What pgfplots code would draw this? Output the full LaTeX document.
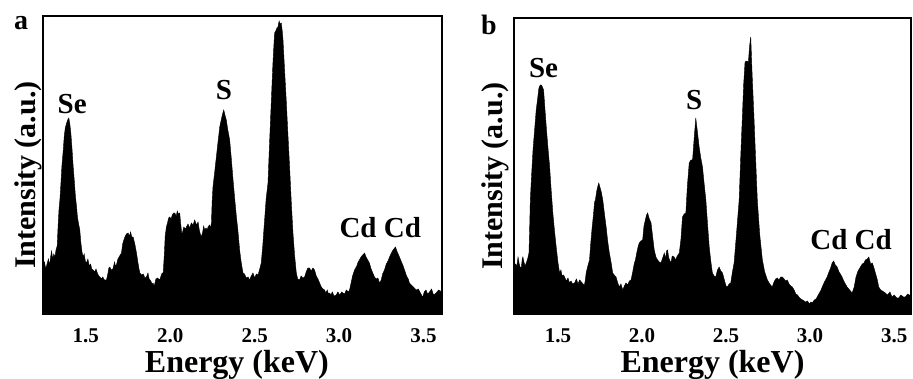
\documentclass[border=0pt]{standalone}
\usepackage{fontspec}
\setmainfont{Liberation Serif}
\usepackage{pgfplots}
\pgfplotsset{compat=1.18}

\begin{document}
\begin{tikzpicture}[x=1pt,y=1pt]
\tikzset{pk/.style={anchor=base, inner sep=0pt, font=\bfseries\fontsize{29}{29}\selectfont}}
\pgfplotsset{
  eds/.style={
    scale only axis,
    ymin=0,
    axis line style={line width=2.2pt},
    xtick={1.5,2.0,2.5,3.0,3.5},
    xticklabels={1.5,2.0,2.5,3.0,3.5},
    ytick=\empty,
    major tick length=0pt,
    xticklabel style={font=\bfseries\fontsize{21}{21}\selectfont, anchor=base, yshift=-29pt},
    xlabel={Energy (keV)},
    ylabel={Intensity (a.u.)},
    xlabel style={font=\bfseries\fontsize{32}{32}\selectfont},
    ylabel style={font=\bfseries\fontsize{30}{30}\selectfont},
    xlabel style={at={(axis description cs:0.5,0)}, anchor=base, yshift=-59pt},
  },
}

% ---------------- panel a ----------------
\begin{axis}[eds, at={(43pt,65pt)}, anchor=south west, width=399pt, height=298pt,
  xmin=1.246, xmax=3.61, ymax=298,
  xlabel style={at={(axis description cs:0.486,0)}},
  ylabel style={at={(axis description cs:-0.02,0.466)}, anchor=base}]
\addplot[fill=black, draw=black, line width=0.4pt] coordinates {
(1.246,47) (1.255,52) (1.262,45) (1.270,50) (1.278,55) (1.285,49) (1.292,58) (1.297,63)
(1.303,55) (1.310,60) (1.317,57) (1.323,64) (1.330,68) (1.336,90) (1.341,105) (1.346,114)
(1.352,130) (1.358,148) (1.366,164) (1.372,178) (1.378,186) (1.386,191) (1.392,194) (1.399,196)
(1.405,190) (1.411,181) (1.418,165) (1.425,147) (1.432,132) (1.438,118) (1.445,107) (1.450,97)
(1.457,90) (1.464,84) (1.470,72) (1.477,62) (1.484,57) (1.490,60) (1.497,53) (1.504,51)
(1.512,55) (1.520,48) (1.528,50) (1.535,45) (1.543,44) (1.552,42) (1.560,45) (1.570,40)
(1.577,38) (1.583,37) (1.592,35) (1.600,37) (1.610,34) (1.622,34) (1.630,40) (1.636,46)
(1.642,47) (1.650,44) (1.660,45) (1.670,52) (1.675,48) (1.681,49) (1.690,55) (1.700,58)
(1.711,61) (1.718,70) (1.725,74) (1.731,77) (1.740,80) (1.750,81) (1.758,78) (1.765,82)
(1.772,77) (1.780,77) (1.790,70) (1.800,61) (1.808,52) (1.815,45) (1.820,41) (1.830,39)
(1.840,40) (1.850,36) (1.859,37) (1.868,41) (1.875,35) (1.885,33) (1.892,30) (1.898,31)
(1.905,28) (1.915,35) (1.925,36) (1.938,34) (1.945,38) (1.952,41) (1.958,41) (1.965,60)
(1.970,78) (1.977,87) (1.985,92) (1.990,96) (1.997,97) (2.005,95) (2.012,99) (2.020,101)
(2.027,101) (2.035,98) (2.042,103) (2.048,100) (2.056,101) (2.062,90) (2.068,81) (2.072,81)
(2.080,87) (2.090,85) (2.096,87) (2.105,90) (2.115,86) (2.125,91) (2.135,89) (2.145,94)
(2.155,89) (2.165,92) (2.172,84) (2.178,80) (2.184,77) (2.192,82) (2.198,88) (2.204,84)
(2.212,86) (2.218,84) (2.224,87) (2.232,89) (2.238,86) (2.244,91) (2.248,112) (2.253,127)
(2.262,140) (2.273,157) (2.283,172) (2.293,187) (2.303,195) (2.310,200) (2.317,204) (2.324,199)
(2.332,194) (2.340,185) (2.352,174) (2.362,155) (2.372,134) (2.382,115) (2.392,97) (2.400,85)
(2.411,64) (2.420,52) (2.431,41) (2.440,40) (2.450,36) (2.461,37) (2.470,34) (2.480,38)
(2.490,41) (2.500,36) (2.510,40) (2.520,39) (2.530,45) (2.539,51) (2.548,68) (2.555,85)
(2.559,94) (2.568,115) (2.579,131) (2.588,170) (2.599,214) (2.608,250) (2.618,281) (2.625,283)
(2.632,286) (2.638,287) (2.645,293) (2.650,290) (2.658,291) (2.664,282) (2.668,274) (2.677,245)
(2.687,214) (2.697,180) (2.707,147) (2.717,112) (2.727,81) (2.737,58) (2.747,41) (2.755,35)
(2.766,34) (2.775,38) (2.786,36) (2.796,37) (2.805,42) (2.815,46) (2.825,46) (2.835,43)
(2.845,46) (2.855,44) (2.865,38) (2.875,35) (2.885,31) (2.895,27) (2.905,25) (2.914,24)
(2.922,21) (2.930,24) (2.937,20) (2.944,21) (2.952,19) (2.960,22) (2.970,18) (2.983,19)
(2.993,22) (3.005,19) (3.015,22) (3.023,21) (3.033,20) (3.043,24) (3.055,22) (3.062,24)
(3.070,30) (3.080,38) (3.092,44) (3.105,48) (3.113,52) (3.121,54) (3.130,57) (3.140,59)
(3.151,61) (3.160,57) (3.170,54) (3.180,51) (3.190,45) (3.200,41) (3.210,37) (3.220,35)
(3.230,36) (3.240,31) (3.250,34) (3.258,40) (3.269,44) (3.280,50) (3.290,53) (3.299,57)
(3.310,61) (3.320,64) (3.334,67) (3.345,62) (3.358,57) (3.370,52) (3.380,48) (3.388,44)
(3.400,38) (3.410,35) (3.417,31) (3.428,29) (3.440,27) (3.457,24) (3.470,25) (3.485,20)
(3.496,17) (3.505,22) (3.515,24) (3.525,20) (3.536,22) (3.548,25) (3.560,19) (3.575,21)
(3.590,24) (3.610,22)
} \closedcycle;
\node[pk] at (axis cs:1.419,200) {Se};
\node[pk] at (axis cs:2.318,214) {S};
\node[pk] at (axis cs:3.244,76) {Cd Cd};
\end{axis}

% ---------------- panel b ----------------
\begin{axis}[eds, at={(514pt,65pt)}, anchor=south west, width=397pt, height=296pt,
  xmin=1.239, xmax=3.60, ymax=296,
  ylabel style={at={(axis description cs:-0.028,0.466)}, anchor=base}]
\addplot[fill=black, draw=black, line width=0.4pt] coordinates {
(1.239,44) (1.248,50) (1.256,48) (1.263,57) (1.270,50) (1.277,46) (1.283,47) (1.288,55)
(1.292,57) (1.298,52) (1.305,48) (1.312,51) (1.320,55) (1.328,61) (1.332,85) (1.336,114)
(1.344,140) (1.352,164) (1.362,185) (1.371,204) (1.380,216) (1.387,226) (1.395,229) (1.401,229)
(1.408,227) (1.415,224) (1.423,205) (1.431,187) (1.440,168) (1.451,147) (1.460,124) (1.470,101)
(1.480,83) (1.490,67) (1.500,52) (1.510,41) (1.518,44) (1.525,38) (1.533,39) (1.540,37)
(1.550,33) (1.560,36) (1.569,31) (1.578,33) (1.588,30) (1.599,31) (1.610,35) (1.620,30)
(1.629,34) (1.640,32) (1.650,30) (1.658,29) (1.664,35) (1.668,41) (1.678,48) (1.688,54)
(1.696,72) (1.704,87) (1.712,100) (1.718,112) (1.723,114) (1.732,124) (1.738,128) (1.743,131)
(1.750,127) (1.758,122) (1.767,114) (1.777,100) (1.787,87) (1.796,73) (1.806,61) (1.816,52)
(1.826,41) (1.835,39) (1.846,37) (1.856,31) (1.866,27) (1.875,30) (1.886,24) (1.895,28)
(1.905,31) (1.915,29) (1.925,33) (1.935,34) (1.945,42) (1.955,51) (1.961,54) (1.970,62)
(1.978,68) (1.984,71) (1.994,73) (2.004,74) (2.012,88) (2.020,94) (2.027,99) (2.034,101)
(2.042,96) (2.054,91) (2.063,78) (2.073,64) (2.083,57) (2.093,54) (2.103,52) (2.113,51)
(2.123,56) (2.133,61) (2.140,55) (2.146,63) (2.152,64) (2.160,56) (2.172,51) (2.180,58)
(2.192,57) (2.200,54) (2.210,58) (2.222,61) (2.232,75) (2.241,97) (2.251,100) (2.261,101)
(2.270,128) (2.281,151) (2.291,154) (2.301,154) (2.310,175) (2.320,196) (2.330,182) (2.340,167)
(2.350,156) (2.360,147) (2.370,130) (2.380,114) (2.390,90) (2.400,67) (2.410,52) (2.419,41)
(2.429,38) (2.439,37) (2.449,44) (2.459,47) (2.469,43) (2.479,41) (2.490,34) (2.500,28)
(2.508,27) (2.518,30) (2.528,31) (2.538,42) (2.548,51) (2.562,80) (2.578,114) (2.588,160)
(2.597,197) (2.605,230) (2.613,252) (2.623,253) (2.633,252) (2.640,268) (2.647,277) (2.655,240)
(2.666,197) (2.676,155) (2.686,114) (2.700,80) (2.716,54) (2.730,42) (2.746,34) (2.760,30)
(2.775,27) (2.785,32) (2.795,35) (2.805,36) (2.815,34) (2.825,37) (2.835,37) (2.845,35)
(2.855,33) (2.864,34) (2.875,30) (2.885,28) (2.894,27) (2.905,24) (2.915,20) (2.925,19)
(2.933,17) (2.945,15) (2.955,14) (2.965,13) (2.973,12) (2.985,13) (2.995,10) (3.005,12)
(3.012,11) (3.025,14) (3.035,15) (3.042,17) (3.055,21) (3.065,24) (3.072,27) (3.085,32)
(3.095,35) (3.101,37) (3.112,42) (3.122,46) (3.131,51) (3.140,53) (3.150,49) (3.161,47)
(3.172,42) (3.180,40) (3.190,37) (3.200,33) (3.210,30) (3.220,27) (3.235,24) (3.250,21)
(3.262,27) (3.273,37) (3.285,43) (3.299,47) (3.310,50) (3.320,51) (3.329,54) (3.340,55)
(3.349,57) (3.360,50) (3.370,51) (3.378,47) (3.390,40) (3.400,34) (3.408,27) (3.420,24)
(3.430,23) (3.447,21) (3.460,19) (3.475,22) (3.487,17) (3.500,19) (3.515,16) (3.527,16)
(3.540,19) (3.555,17) (3.566,17) (3.580,20) (3.600,18)
} \closedcycle;
\node[pk] at (axis cs:1.415,236) {Se};
\node[pk] at (axis cs:2.311,204) {S};
\node[pk] at (axis cs:3.244,64) {Cd Cd};
\end{axis}

% panel letters
\node[anchor=base, inner sep=0pt, font=\bfseries\fontsize{28}{28}\selectfont] at (21,349) {a};
\node[anchor=base, inner sep=0pt, font=\bfseries\fontsize{28}{28}\selectfont] at (489,344) {b};

\pgfresetboundingbox
\path[use as bounding box] (0,0) rectangle (913,379);
\end{tikzpicture}
\end{document}
